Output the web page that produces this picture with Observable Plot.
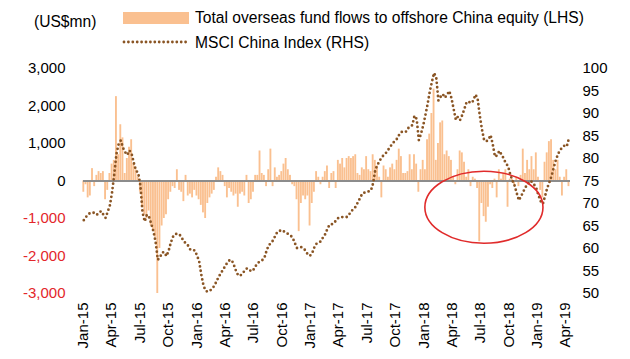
<!DOCTYPE html>
<html><head><meta charset="utf-8">
<script src="https://cdn.jsdelivr.net/npm/d3@7"></script>
<script src="https://cdn.jsdelivr.net/npm/@observablehq/plot@0.6"></script>
<style>
body{margin:0;background:#fff;font-family:"Liberation Sans",Arial,sans-serif;}
#wrap{position:relative;width:630px;height:359px;overflow:hidden;}
#legend{position:absolute;left:0;top:0;width:630px;height:60px;font-size:15.6px;color:#000;line-height:17px;}
#legend .t{position:absolute;white-space:nowrap;}
</style></head><body>
<div id="wrap"><div id="chart"></div>
<div id="legend">
  <div class="t" style="left:34px;top:13px;">(US$mn)</div>
  <div style="position:absolute;left:123px;top:12px;width:66px;height:12px;background:#fac090;"></div>
  <div class="t" style="left:195px;top:9px;">Total overseas fund flows to offshore China equity (LHS)</div>
  <svg style="position:absolute;left:120px;top:37px;" width="72" height="10"><line x1="4" y1="5" x2="68" y2="5" stroke="#8a5524" stroke-width="2.8" stroke-linecap="round" stroke-dasharray="0 4.4"/></svg>
  <div class="t" style="left:195px;top:34px;">MSCI China Index (RHS)</div>
</div>
</div>
<script>
const startWeek = "2015-01-02";
// Weekly total overseas fund flows to offshore China equity (US$mn)
const flows = [
 -300,-100,-450,-400,330,-150,150,250,200,250,
 -500,-250,200,450,550,2250,700,1500,1150,200,
 600,900,1100,450,300,100,-300,-700,-900,-1000,
 -800,-1200,-1300,-1500,-3000,-1800,-1200,-1000,-900,-500,
 -300,-150,-200,300,-250,-300,-550,150,-400,-350,
 -450,-250,-400,-500,-650,-850,-1000,-600,-450,-350,
 -250,100,350,250,150,-150,-450,-200,-300,-400,
 -350,-700,-350,-300,-400,150,-600,-500,-300,150,
 150,800,200,150,-150,300,850,-150,350,100,
 150,250,450,600,300,150,-100,-150,-500,-1350,
 -600,-400,-500,-400,-1200,-600,-300,250,100,-100,
 100,250,400,-200,200,250,-200,550,450,600,
 350,600,650,600,650,700,200,150,350,300,
 650,300,250,700,550,400,100,-450,400,300,
 100,350,450,300,550,850,650,200,200,250,
 700,300,700,450,-300,300,550,300,1100,1250,
 1800,2450,550,1000,1550,1600,700,800,650,550,
 100,-100,300,800,750,500,100,300,-150,100,
 50,-200,-1620,-600,-950,-1100,-700,-100,-200,50,
 -450,300,50,200,300,-700,50,50,-100,100,
 -150,150,850,200,550,300,650,300,750,100,
 -250,-450,500,750,1050,1100,550,300,550,100,
 -400,100,300,-150
];
// Weekly MSCI China Index
const msci = [
 66.3,67.0,67.6,67.9,68.0,67.9,67.5,68.0,68.3,67.5,
 66.8,68.2,69.6,72.5,76.5,81.0,83.2,84.0,82.4,81.4,
 80.8,81.8,81.0,79.0,77.3,76.8,74.0,68.0,66.0,67.5,
 67.0,65.5,63.8,61.5,57.5,58.0,59.1,59.2,58.3,59.5,
 61.3,62.6,63.2,63.3,63.1,62.4,61.5,61.2,60.6,59.7,
 59.6,59.6,58.5,57.2,54.2,51.8,50.6,50.4,50.6,51.1,
 51.7,52.7,53.7,54.5,55.3,56.1,56.9,57.4,57.4,56.3,
 55.0,54.0,54.0,54.5,55.1,55.6,55.3,54.9,55.3,56.1,
 56.8,57.1,57.4,57.9,59.5,60.7,61.2,61.8,62.8,63.7,
 63.9,64.1,63.8,63.5,63.2,62.9,62.4,61.2,60.1,60.2,
 60.3,60.0,59.5,58.6,58.4,59.0,60.3,61.1,61.3,61.6,
 62.5,63.2,64.4,65.3,65.4,65.6,66.3,66.8,66.9,67.0,
 67.0,67.0,67.6,68.3,68.8,69.3,70.3,71.2,72.2,72.4,
 72.6,72.7,72.9,74.5,77.5,78.6,79.5,80.3,80.8,81.3,
 82.0,82.7,83.4,83.9,84.4,85.3,85.9,85.9,85.9,86.7,
 87.1,87.4,89.5,88.8,84.1,85.5,87.3,89.6,92.0,94.8,
 97.0,99.0,98.0,92.9,93.7,94.3,93.5,94.2,95.0,93.4,
 91.0,88.6,89.3,88.6,89.7,91.1,92.6,92.6,92.3,92.8,
 94.2,93.4,89.6,86.5,84.1,83.8,84.2,85.2,83.1,80.4,
 80.7,81.7,80.9,80.0,78.9,78.3,76.5,75.1,74.0,72.3,
 70.7,71.6,72.6,73.6,74.2,75.0,74.8,74.2,73.4,71.8,
 70.5,69.9,71.6,73.4,74.7,76.1,78.0,79.7,81.0,81.9,
 82.5,82.9,82.7,84.5
];
const quarterTicks = ["2015-01-01","2015-04-01","2015-07-01","2015-10-01","2016-01-01","2016-04-01","2016-07-01","2016-10-01","2017-01-01","2017-04-01","2017-07-01","2017-10-01","2018-01-01","2018-04-01","2018-07-01","2018-10-01","2019-01-01","2019-04-01"];
const leftTicks = [-3000,-2000,-1000,0,1000,2000,3000];
const rightTicks = [50,55,60,65,70,75,80,85,90,95,100];
// Annotation ellipse (data units)
const ellipseCenter = {date:"2018-07-14", flow:-712};
const ellipseRadius = {days:190, flow:960};

const barColor = "#fac090", lineColor = "#8a5524", negColor = "#e3262b";
const toFlow = v => (v - 75) * 120; // RHS index -> LHS units
const fmtNum = d3.format(",");
const fmt = d => d < 0 ? "-" + fmtNum(-d) : fmtNum(d);

const table = flows.map((f, i) => ({
  date: d3.utcDay.offset(new Date(startWeek), 7 * i),
  flow: f,
  msci: msci[i]
}));

const chart = Plot.plot({
  width: 630, height: 359,
  marginTop: 68, marginBottom: 66, marginLeft: 83, marginRight: 60,
  style: {fontFamily: "'Liberation Sans', Arial, sans-serif", fontSize: "15px", color: "#000", background: "#fff"},
  x: {type: "utc", domain: [new Date("2015-01-01"), new Date("2019-04-17")]},
  y: {domain: [-3000, 3000]},
  marks: [
    Plot.rect(table, {x1: d => d3.utcDay.offset(d.date, -3), x2: d => d3.utcDay.offset(d.date, 3), y1: 0, y2: "flow", fill: barColor}),
    Plot.ruleY([0], {stroke: "#8c8c8c", strokeWidth: 2}),
    Plot.line(table, {x: "date", y: d => toFlow(d.msci), stroke: lineColor, strokeWidth: 2.8, strokeDasharray: "0 4.4", strokeLinecap: "round"}),
    Plot.axisY({ticks: leftTicks.filter(d => d >= 0), anchor: "left", tickSize: 0, tickPadding: 18, tickFormat: fmt, label: null}),
    Plot.axisY({ticks: leftTicks.filter(d => d < 0), anchor: "left", tickSize: 0, tickPadding: 18, tickFormat: fmt, label: null, color: negColor}),
    Plot.axisY({ticks: rightTicks.map(toFlow), anchor: "right", tickSize: 0, tickPadding: 12, tickFormat: d => String(Math.round(75 + d / 120)), label: null}),
    Plot.axisX({ticks: quarterTicks.map(s => new Date(s)), anchor: "bottom", tickSize: 0, tickPadding: 9, tickRotate: -90, tickFormat: d3.utcFormat("%b-%y"), label: null})
  ]
});
document.getElementById("chart").appendChild(chart);

const sx = chart.scale("x"), sy = chart.scale("y");
const c = new Date(ellipseCenter.date);
const cx = sx.apply(c), cy = sy.apply(ellipseCenter.flow);
const rx = sx.apply(d3.utcDay.offset(c, ellipseRadius.days)) - cx;
const ry = sy.apply(ellipseCenter.flow - ellipseRadius.flow) - cy;
d3.select(chart).append("ellipse")
  .attr("cx", cx).attr("cy", cy).attr("rx", rx).attr("ry", ry)
  .attr("fill", "none").attr("stroke", "#e02b2b").attr("stroke-width", 1.6);
</script>
</body></html>
